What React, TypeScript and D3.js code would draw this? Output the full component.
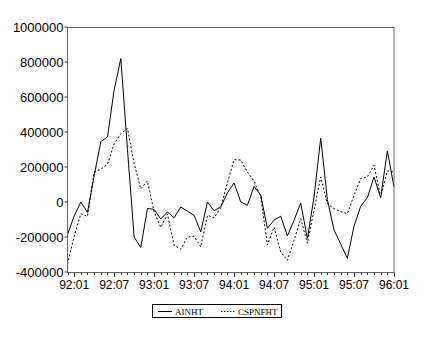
import React from "react";
import * as d3 from "d3";

const periods = [
  "91:12",
  "92:01","92:02","92:03","92:04","92:05","92:06","92:07","92:08","92:09","92:10","92:11","92:12",
  "93:01","93:02","93:03","93:04","93:05","93:06","93:07","93:08","93:09","93:10","93:11","93:12",
  "94:01","94:02","94:03","94:04","94:05","94:06","94:07","94:08","94:09","94:10","94:11","94:12",
  "95:01","95:02","95:03","95:04","95:05","95:06","95:07","95:08","95:09","95:10","95:11","95:12",
  "96:01",
];

const ainht = [
  -185000, -80000, 0, -60000, 150000, 345000, 372000, 640000, 820000, 300000,
  -200000, -260000, -37000, -42000, -97000, -57000, -90000, -29000, -52000, -76000,
  -171000, 0, -50000, -28000, 52000, 109000, 0, -19000, 89000, 40000,
  -150000, -104000, -81000, -194000, -104000, -6000, -208000, 28000, 366000, 15000,
  -160000, -240000, -322000, -138000, -25000, 25000, 143000, 24000, 292000, 86000,
];

const cspnfht = [
  -355000, -196000, -67000, -82000, 171000, 187000, 215000, 333000, 390000, 420000,
  220000, 75000, 121000, -57000, -145000, -70000, -248000, -270000, -200000, -196000,
  -257000, -76000, -90000, -32000, 110000, 242000, 240000, 171000, 120000, 29000,
  -245000, -143000, -286000, -333000, -219000, -95000, -235000, -45000, 143000, -10000,
  -38000, -55000, -67000, 38000, 134000, 143000, 210000, 29000, 178000, 171000,
];

const tickLabels = ["92:01", "92:07", "93:01", "93:07", "94:01", "94:07", "95:01", "95:07", "96:01"];
const yTicks = [-400000, -200000, 0, 200000, 400000, 600000, 800000, 1000000];
const seriesNames = ["AINHT", "CSPNFHT"];

export default function App() {
  const W = 425;
  const H = 348;
  const left = 67.5;
  const right = 394;
  const top = 27;
  const bottom = 272;

  const x = d3.scalePoint<string>().domain(periods).range([left, right]);
  const y = d3.scaleLinear().domain([-400000, 1000000]).range([bottom, top]);

  const line = d3
    .line<number>()
    .x((_, i) => x(periods[i]) as number)
    .y((d) => y(d));

  const sans = "'Liberation Sans', Arial, sans-serif";
  const serif = "'Liberation Serif', 'Times New Roman', serif";

  return (
    <svg
      width={W}
      height={H}
      style={{ position: "absolute", left: 0, top: 0, background: "#fff" }}
    >
      <rect x={0} y={0} width={W} height={H} fill="#fff" />
      {/* series */}
      <path d={line(ainht) || ""} fill="none" stroke="#000" strokeWidth={1} />
      <path
        d={line(cspnfht) || ""}
        fill="none"
        stroke="#000"
        strokeWidth={1}
        strokeDasharray="2,2"
      />
      {/* frame */}
      <rect
        x={left}
        y={top + 0.5}
        width={right - left}
        height={bottom - top}
        fill="none"
        stroke="#666"
        strokeWidth={1}
      />
      {/* y ticks */}
      {yTicks.map((t) => (
        <g key={t}>
          <line x1={left - 3} x2={left} y1={y(t)} y2={y(t)} stroke="#333" />
          <text
            x={left - 4}
            y={y(t)}
            dy="0.35em"
            textAnchor="end"
            fontFamily={sans}
            fontSize={13}
            fill="#000"
          >
            {t}
          </text>
        </g>
      ))}
      {/* x ticks */}
      {periods.map((p) => {
        const major = tickLabels.includes(p);
        const px = Math.round(x(p) as number) + 0.5;
        return (
          <line
            key={p}
            x1={px}
            x2={px}
            y1={bottom + 0.5}
            y2={bottom + (major ? 5 : 3)}
            stroke="#333"
          />
        );
      })}
      {tickLabels.map((p) => (
        <text
          key={p}
          x={x(p) as number}
          y={289}
          textAnchor="middle"
          fontFamily={sans}
          fontSize={12}
          fill="#000"
        >
          {p}
        </text>
      ))}
      {/* legend */}
      <rect x={152.5} y={304.5} width={129} height={13} fill="#fff" stroke="#000" strokeWidth={1} />
      <line x1={158} x2={172} y1={311.5} y2={311.5} stroke="#000" />
      <text x={175} y={315} fontFamily={serif} fontSize={9} fill="#000">
        {seriesNames[0]}
      </text>
      <line x1={221} x2={235} y1={311.5} y2={311.5} stroke="#000" strokeDasharray="1.5,1.5" />
      <text x={238} y={315} fontFamily={serif} fontSize={9} fill="#000">
        {seriesNames[1]}
      </text>
    </svg>
  );
}
